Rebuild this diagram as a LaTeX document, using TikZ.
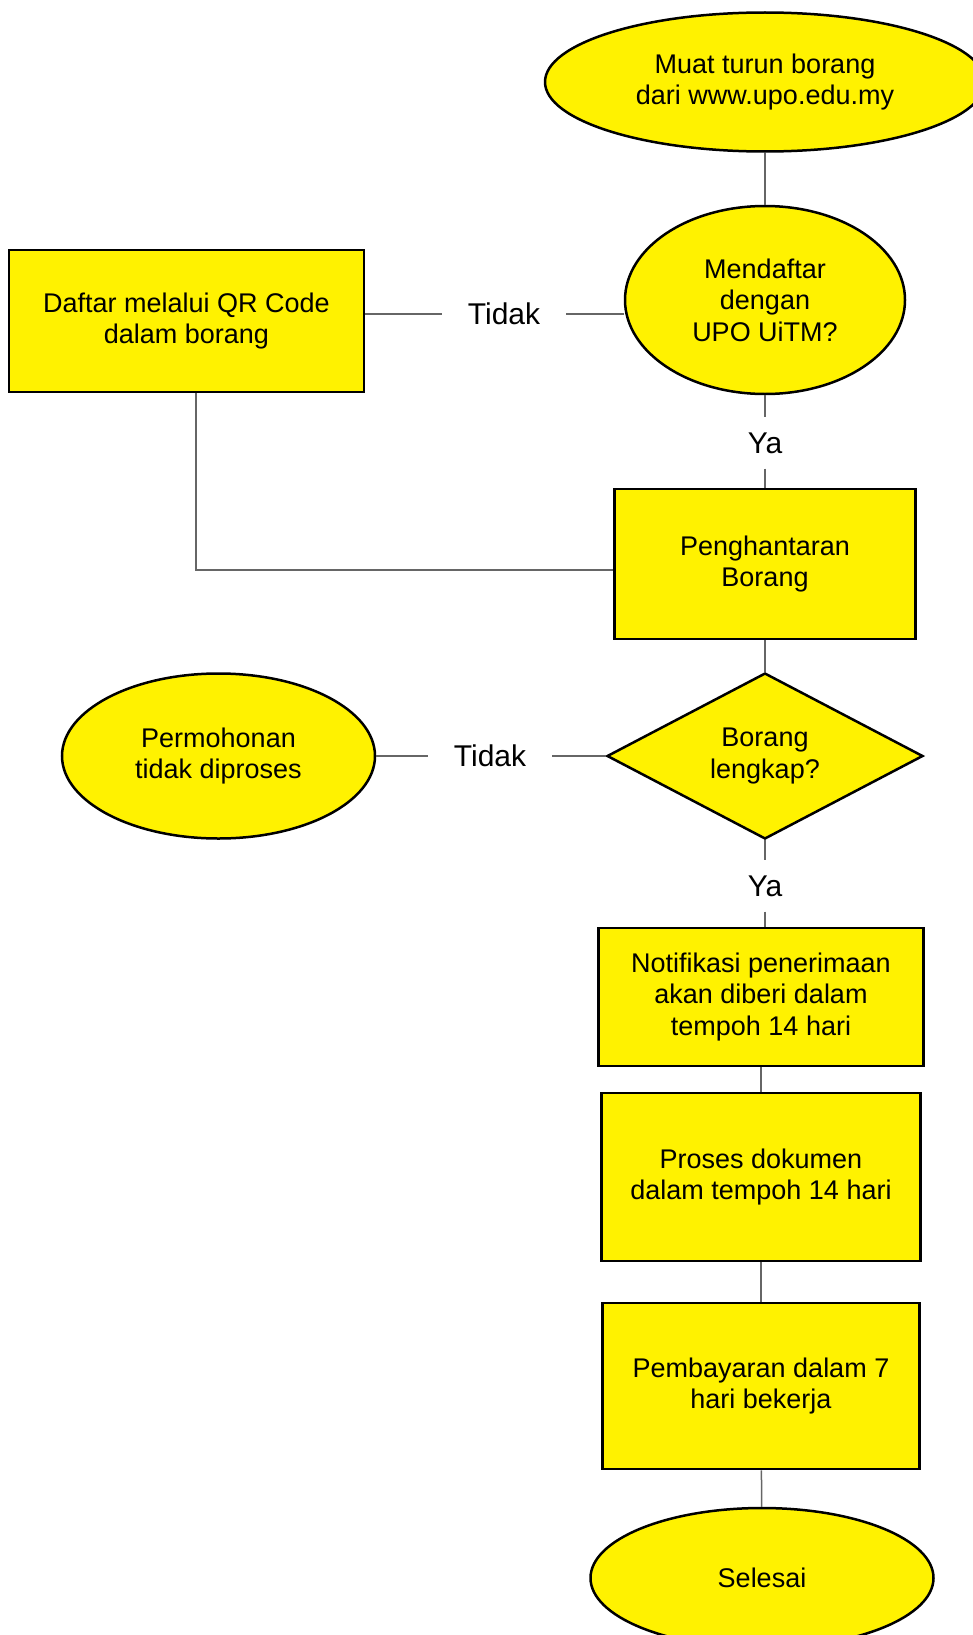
\documentclass[tikz,border=0pt]{standalone}
\usepackage{fontspec}
\setmainfont{Liberation Sans}
\usetikzlibrary{positioning}
\usetikzlibrary{shapes.geometric}

\begin{document}
\begin{tikzpicture}[x=1pt,y=-1pt,
  box/.style={draw=black, fill=yellow, line width=2.5pt, rectangle, align=center, inner sep=0pt, font=\fontsize{27}{31.5}\selectfont},
  oval/.style={box, ellipse},
  choice/.style={box, diamond},
  lbl/.style={inner xsep=26pt, inner ysep=15pt, font=\fontsize{30}{34}\selectfont},
  link/.style={draw=black!60, line width=1.5pt}]

\useasboundingbox (0,0) rectangle (973,1635);

% shapes
\node[oval, minimum width=440, minimum height=139] (muat) at (765,82) {Muat turun borang\\dari www.upo.edu.my};
\node[oval, minimum width=280, minimum height=188] (mendaftar) at (765,300) {Mendaftar\\dengan\\UPO UiTM?};
\node[box, minimum width=355, minimum height=142] (daftar) at (186.5,321) {Daftar melalui QR Code\\dalam borang};
\node[box, minimum width=301, minimum height=150] (pengh) at (765,564) {Penghantaran\\Borang};
\node[choice, minimum width=316, minimum height=166] (borang) at (765,756) {Borang\\lengkap?};
\node[oval, minimum width=313, minimum height=165] (permohonan) at (218.5,756) {Permohonan\\tidak diproses};
\node[box, minimum width=325, minimum height=138] (notif) at (761,997) {Notifikasi penerimaan\\akan diberi dalam\\tempoh 14 hari};
\node[box, minimum width=319, minimum height=168] (proses) at (761,1177) {Proses dokumen\\dalam tempoh 14 hari};
\node[box, minimum width=317, minimum height=166] (bayar) at (761,1386) {Pembayaran dalam 7\\hari bekerja};
\node[oval, minimum width=343, minimum height=140] (selesai) at (762,1578) {Selesai};

% labels
\node[lbl] (tidakA) at (504,314) {Tidak};
\node[lbl] (yaA) at (765,443) {Ya};
\node[lbl] (tidakB) at (490,756) {Tidak};
\node[lbl] (yaB) at (765,886) {Ya};

% connectors
\draw[link] (muat) -- (mendaftar);
\draw[link] (daftar.east |- tidakA) -- (tidakA);
\draw[link] (tidakA) -- (tidakA -| mendaftar.west);
\draw[link] (mendaftar) -- (yaA);
\draw[link] (yaA) -- (pengh);
\draw[link] ([xshift=9.5pt]daftar.south) |- ([yshift=-6pt]pengh.west);
\draw[link] (pengh) -- (borang);
\draw[link] (permohonan) -- (tidakB);
\draw[link] (tidakB) -- (borang);
\draw[link] (borang) -- (yaB);
\draw[link] (yaB) -- (yaB |- notif.north);
\draw[link] (notif) -- (proses);
\draw[link] (proses) -- (bayar);
\draw[link] (bayar) -- (selesai);

\end{tikzpicture}
\end{document}
